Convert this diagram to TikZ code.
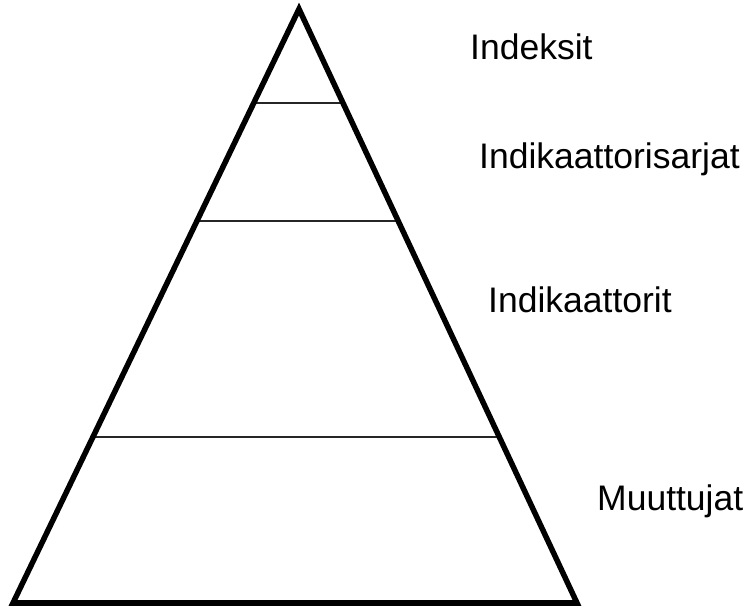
\documentclass[tikz,border=0pt]{standalone}
\usepackage{fontspec}
\setmainfont{Liberation Sans}
\usetikzlibrary{calc}
\begin{document}
\begin{tikzpicture}[x=1pt,y=-1pt]
%============================================================
%  Estilos da piramide
%============================================================
\tikzset{ % Linha em branco nessa secao da erro!
    % --- contorno da piramide ------
    borda/.style={ %
            draw=black,      % linha preta
            line width=5.5pt % linha bem grossa
        },
    % --- divisoes internas ------
    divisao/.style={ -, %
            draw=black!85,   % quase preto
            line width=1.4pt % linha fina
        },
    % --- textos dos niveis ------
    rotulo/.style={ %
            anchor=base west,
            inner sep=0pt,
            font=\fontsize{35.5}{40}\selectfont
        },
}
   % area total da figura
   \useasboundingbox (0,0) rectangle (752,613);

   % vertices do triangulo
   \coordinate (topo) at (299,9);
   \coordinate (esq)  at (13,603);
   \coordinate (dir)  at (577,603);

   % divisoes entre os niveis (fracao da altura a partir do topo)
   \foreach \t/\nome in {0.158/a,0.357/b,0.7205/c}{
      \coordinate (e\nome) at ($(topo)!\t!(esq)$);
      \coordinate (d\nome) at ($(topo)!\t!(dir)$);
      \draw[divisao] (e\nome) -- (d\nome);
   }

   % contorno (base um pouco mais grossa)
   \draw[borda] (topo) -- (dir) -- (esq) -- cycle;
   \draw[borda,line width=6.5pt] (esq) -- (dir);

   % nomes dos niveis
   \node[rotulo] (indeksit) at (470,59) {Indeksit};
   \node[rotulo] (sarjat) at (479,168) {Indikaattorisarjat};
   \node[rotulo] (indikaattorit) at (488,312) {Indikaattorit};
   \node[rotulo] (muuttujat) at (597,510) {Muuttujat};
\end{tikzpicture}
\end{document}
